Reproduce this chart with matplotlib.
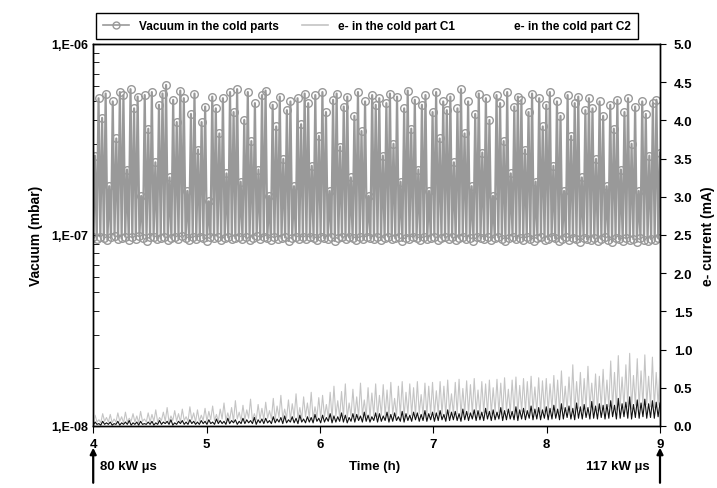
import numpy as np
import matplotlib.pyplot as plt
from matplotlib.lines import Line2D
from matplotlib.ticker import FixedLocator, LogLocator, NullFormatter

plt.rcParams['font.family'] = ['Liberation Sans', 'DejaVu Sans']
plt.rcParams['font.weight'] = 'bold'

# vacuum spikes (units of 1e-7 mbar)
vac_peak = [2.6, 5.2, 4.1, 5.5, 1.8, 5.0, 3.2, 5.6, 5.4, 2.2, 5.8, 4.6, 5.3, 1.6, 5.4, 3.6, 5.6, 2.4, 4.8, 5.5,
            6.1, 2.0, 5.1, 3.9, 5.7, 5.2, 1.7, 4.3, 5.5, 2.8, 3.9, 4.7, 1.5, 5.3, 4.6, 3.4, 5.2, 2.1, 5.6, 4.4,
            5.8, 1.9, 4.0, 5.6, 3.1, 4.9, 2.2, 5.4, 5.7, 1.6, 4.8, 3.7, 5.3, 2.5, 4.5, 5.0, 1.8, 5.2, 3.8, 5.5,
            4.9, 2.3, 5.4, 3.3, 5.6, 4.4, 1.7, 5.1, 5.5, 2.9, 4.7, 5.3, 2.0, 4.2, 5.6, 3.5, 5.0, 1.6, 5.4, 4.8,
            5.2, 2.6, 4.9, 5.5, 3.0, 5.3, 1.9, 4.6, 5.7, 3.6, 5.1, 2.2, 4.8, 5.4, 1.7, 4.4, 5.6, 3.2, 5.0, 4.5,
            5.3, 2.4, 4.6, 5.8, 3.4, 5.0, 1.8, 4.3, 5.5, 2.7, 5.2, 4.0, 1.6, 5.4, 4.9, 3.1, 5.6, 2.1, 4.7, 5.3,
            5.1, 2.8, 4.4, 5.5, 1.9, 5.2, 3.7, 4.8, 5.6, 2.3, 5.0, 4.2, 1.7, 5.4, 3.3, 4.9, 5.3, 2.0, 4.5, 5.2,
            4.6, 2.5, 5.0, 4.2, 1.8, 4.8, 3.6, 5.1, 2.2, 4.4, 5.2, 3.0, 4.7, 1.7, 5.0, 4.3, 2.6, 4.9, 5.1, 2.7]
vac_low = [0.97, 0.95, 0.98, 0.96, 0.94, 0.97, 0.99, 0.95, 0.96, 0.98, 0.94, 0.97, 0.95, 0.99, 0.96, 0.93, 0.97, 0.98, 0.95, 0.96,
           0.98, 0.94, 0.96, 0.97, 0.95, 0.99, 0.96, 0.94, 0.97, 0.95, 0.98, 0.96, 0.93, 0.97, 0.96, 0.98, 0.94, 0.96, 0.97, 0.95,
           0.96, 0.98, 0.95, 0.97, 0.94, 0.96, 0.99, 0.95, 0.97, 0.96, 0.94, 0.98, 0.95, 0.96, 0.97, 0.93, 0.96, 0.98, 0.95, 0.97,
           0.95, 0.97, 0.96, 0.94, 0.98, 0.96, 0.95, 0.97, 0.93, 0.96, 0.98, 0.95, 0.97, 0.96, 0.94, 0.97, 0.95, 0.98, 0.96, 0.95,
           0.97, 0.94, 0.96, 0.98, 0.95, 0.96, 0.97, 0.93, 0.96, 0.95, 0.98, 0.96, 0.94, 0.97, 0.95, 0.96, 0.98, 0.94, 0.96, 0.97,
           0.95, 0.97, 0.94, 0.96, 0.98, 0.95, 0.96, 0.93, 0.97, 0.96, 0.95, 0.98, 0.94, 0.96, 0.97, 0.95, 0.93, 0.96, 0.98, 0.95,
           0.96, 0.94, 0.97, 0.95, 0.93, 0.96, 0.98, 0.94, 0.95, 0.97, 0.96, 0.93, 0.95, 0.97, 0.94, 0.96, 0.95, 0.92, 0.96, 0.95,
           0.94, 0.96, 0.93, 0.95, 0.97, 0.94, 0.92, 0.96, 0.95, 0.93, 0.96, 0.94, 0.95, 0.92, 0.96, 0.94, 0.93, 0.95, 0.94, 0.96]

# e- current in cold part C1 (mA): spikes and values between them
c1_peak = [0.14, 0.08, 0.16, 0.11, 0.15, 0.09, 0.17, 0.12, 0.18, 0.10, 0.16, 0.13, 0.19, 0.09, 0.17,
           0.15, 0.21, 0.11, 0.18, 0.24, 0.13, 0.20, 0.16, 0.22, 0.12, 0.25, 0.17, 0.21, 0.14, 0.23,
           0.19, 0.26, 0.15, 0.22, 0.30, 0.17, 0.24, 0.33, 0.18, 0.27, 0.21, 0.35, 0.16, 0.28, 0.23,
           0.31, 0.20, 0.36, 0.26, 0.40, 0.22, 0.34, 0.29, 0.42, 0.24, 0.38, 0.30, 0.44, 0.25, 0.37,
           0.40, 0.28, 0.44, 0.52, 0.33, 0.45, 0.55, 0.30, 0.48, 0.38, 0.56, 0.34, 0.50, 0.43, 0.55,
           0.40, 0.54, 0.47, 0.57, 0.36, 0.52, 0.58, 0.44, 0.55, 0.50, 0.58, 0.41, 0.56, 0.52, 0.57,
           0.46, 0.58, 0.52, 0.60, 0.42, 0.57, 0.61, 0.49, 0.59, 0.54, 0.62, 0.47, 0.58, 0.55, 0.60,
           0.50, 0.61, 0.56, 0.63, 0.48, 0.60, 0.64, 0.53, 0.62, 0.58, 0.65, 0.51, 0.63, 0.59, 0.62,
           0.55, 0.66, 0.60, 0.72, 0.52, 0.64, 0.80, 0.58, 0.70, 0.62, 0.78, 0.56, 0.68, 0.65, 0.74,
           0.60, 0.85, 0.70, 0.92, 0.64, 0.80, 0.95, 0.66, 0.88, 0.72, 0.93, 0.65, 0.90, 0.70, 0.76]
c1_low = [0.04, 0.05, 0.04, 0.06, 0.05, 0.04, 0.05, 0.06, 0.04, 0.05, 0.06, 0.05, 0.04, 0.06, 0.05,
          0.05, 0.06, 0.05, 0.07, 0.06, 0.05, 0.07, 0.06, 0.05, 0.07, 0.06, 0.08, 0.05, 0.06, 0.07,
          0.06, 0.08, 0.07, 0.06, 0.09, 0.07, 0.08, 0.06, 0.09, 0.07, 0.08, 0.10, 0.07, 0.08, 0.09,
          0.08, 0.10, 0.09, 0.08, 0.11, 0.09, 0.10, 0.08, 0.11, 0.10, 0.09, 0.12, 0.10, 0.09, 0.11,
          0.10, 0.12, 0.11, 0.10, 0.13, 0.11, 0.12, 0.10, 0.13, 0.12, 0.11, 0.14, 0.12, 0.11, 0.13,
          0.12, 0.14, 0.13, 0.12, 0.15, 0.13, 0.14, 0.12, 0.15, 0.14, 0.13, 0.16, 0.14, 0.13, 0.15,
          0.14, 0.16, 0.15, 0.13, 0.17, 0.15, 0.16, 0.14, 0.17, 0.15, 0.16, 0.18, 0.15, 0.17, 0.16,
          0.16, 0.18, 0.17, 0.15, 0.19, 0.17, 0.18, 0.16, 0.19, 0.18, 0.17, 0.20, 0.18, 0.17, 0.19,
          0.18, 0.21, 0.19, 0.17, 0.22, 0.20, 0.21, 0.18, 0.23, 0.20, 0.22, 0.24, 0.21, 0.20, 0.23,
          0.22, 0.25, 0.23, 0.21, 0.26, 0.24, 0.25, 0.22, 0.27, 0.24, 0.26, 0.28, 0.25, 0.24, 0.27]

# e- current in cold part C2 (mA)
c2_peak = [0.05, 0.03, 0.06, 0.04, 0.05, 0.03, 0.06, 0.04, 0.05, 0.07, 0.04, 0.05, 0.06, 0.03, 0.05,
           0.06, 0.04, 0.07, 0.05, 0.06, 0.08, 0.04, 0.06, 0.07, 0.05, 0.08, 0.06, 0.05, 0.07, 0.06,
           0.08, 0.05, 0.09, 0.07, 0.06, 0.10, 0.07, 0.08, 0.06, 0.10, 0.08, 0.07, 0.11, 0.08, 0.09,
           0.10, 0.07, 0.12, 0.09, 0.11, 0.13, 0.08, 0.12, 0.10, 0.14, 0.09, 0.12, 0.11, 0.15, 0.10,
           0.14, 0.11, 0.16, 0.13, 0.12, 0.17, 0.14, 0.11, 0.16, 0.15, 0.13, 0.18, 0.14, 0.12, 0.17,
           0.16, 0.13, 0.18, 0.15, 0.17, 0.12, 0.19, 0.16, 0.14, 0.18, 0.17, 0.15, 0.20, 0.16, 0.18,
           0.17, 0.20, 0.15, 0.21, 0.18, 0.19, 0.16, 0.22, 0.19, 0.17, 0.21, 0.20, 0.18, 0.23, 0.19,
           0.21, 0.18, 0.24, 0.20, 0.22, 0.19, 0.25, 0.21, 0.23, 0.20, 0.26, 0.22, 0.24, 0.21, 0.25,
           0.23, 0.27, 0.22, 0.29, 0.24, 0.26, 0.23, 0.30, 0.25, 0.28, 0.24, 0.32, 0.26, 0.29, 0.27,
           0.28, 0.33, 0.27, 0.36, 0.29, 0.31, 0.38, 0.28, 0.34, 0.30, 0.35, 0.29, 0.33, 0.31, 0.30]
c2_low = [0.01, 0.02, 0.01, 0.02, 0.02, 0.01, 0.02, 0.01, 0.02, 0.02, 0.01, 0.02, 0.01, 0.02, 0.02,
          0.02, 0.01, 0.02, 0.02, 0.03, 0.02, 0.01, 0.02, 0.03, 0.02, 0.02, 0.03, 0.02, 0.02, 0.03,
          0.02, 0.03, 0.02, 0.03, 0.03, 0.02, 0.03, 0.04, 0.02, 0.03, 0.03, 0.04, 0.03, 0.02, 0.04,
          0.03, 0.04, 0.03, 0.04, 0.05, 0.03, 0.04, 0.05, 0.04, 0.03, 0.05, 0.04, 0.05, 0.04, 0.06,
          0.04, 0.05, 0.06, 0.04, 0.05, 0.06, 0.05, 0.04, 0.06, 0.05, 0.07, 0.05, 0.06, 0.05, 0.07,
          0.05, 0.06, 0.07, 0.05, 0.06, 0.07, 0.06, 0.05, 0.07, 0.06, 0.08, 0.06, 0.07, 0.06, 0.08,
          0.06, 0.07, 0.08, 0.06, 0.07, 0.08, 0.07, 0.06, 0.08, 0.07, 0.09, 0.07, 0.08, 0.07, 0.09,
          0.07, 0.08, 0.09, 0.07, 0.08, 0.09, 0.08, 0.07, 0.09, 0.08, 0.10, 0.08, 0.09, 0.08, 0.10,
          0.08, 0.09, 0.10, 0.08, 0.09, 0.11, 0.09, 0.08, 0.10, 0.09, 0.11, 0.09, 0.10, 0.09, 0.11,
          0.09, 0.10, 0.12, 0.09, 0.10, 0.12, 0.10, 0.09, 0.11, 0.10, 0.12, 0.10, 0.11, 0.10, 0.12]

t_start, t_end = 4.0, 9.0
x_ticks = [4, 5, 6, 7, 8, 9]
left_ticks = [1e-8, 1e-7, 1e-6]
left_labels = ['1,E-08', '1,E-07', '1,E-06']
right_ticks = [0.0, 0.5, 1.0, 1.5, 2.0, 2.5, 3.0, 3.5, 4.0, 4.5, 5.0]


def interleave(low, peak):
    out = []
    for a, b in zip(low, peak):
        out += [a, b]
    return np.array(out)


vac = interleave(vac_low, vac_peak) * 1e-7
c1 = interleave(c1_low, c1_peak)
c2 = interleave(c2_low, c2_peak)
t_vac = np.linspace(t_start, t_end, len(vac))
t_c1 = np.linspace(t_start, t_end, len(c1))
t_c2 = np.linspace(t_start, t_end, len(c2))

fig = plt.figure(figsize=(7.17, 4.89), dpi=100)
ax = fig.add_axes([0.130, 0.127, 0.7905, 0.781])
ax2 = ax.twinx()

vac_col = '#999999'
ax.plot(t_vac, vac, color=vac_col, lw=1.6, marker='o', ms=5.5, mfc='none', mec=vac_col, mew=1.0)
ax.set_yscale('log')
ax.set_ylim(1e-8, 1e-6)
ax.set_xlim(t_start, t_end)
ax.yaxis.set_major_locator(FixedLocator(left_ticks))
ax.set_yticklabels(left_labels)
ax.yaxis.set_minor_locator(LogLocator(base=10, subs=np.arange(2, 10)))
ax.yaxis.set_minor_formatter(NullFormatter())
ax.tick_params(axis='y', which='both', direction='in', labelsize=9)
ax.tick_params(axis='y', which='major', length=5)
ax.tick_params(axis='y', which='minor', length=4)
ax.set_xticks(x_ticks)
ax.tick_params(axis='x', direction='out', length=5, labelsize=9.5, pad=4)
ax.set_ylabel('Vacuum (mbar)', fontsize=10, fontweight='bold', labelpad=6)

c1_col = '#c4c4c4'
ax2.plot(t_c1, c1, color=c1_col, lw=0.8)
ax2.plot(t_c2, c2, color='#111111', lw=0.8)
ax2.set_ylim(0, 5)
ax2.set_yticks(right_ticks)
ax2.set_yticklabels([f'{v:.1f}' for v in right_ticks])
ax2.tick_params(axis='y', direction='out', length=4, labelsize=9.5, pad=6)
ax2.set_ylabel('e- current (mA)', fontsize=10, fontweight='bold', labelpad=6)

for a in (ax, ax2):
    for s in a.spines.values():
        s.set_linewidth(1.0)

handles = [Line2D([], [], color=vac_col, lw=1.2, marker='o', ms=5, mfc='none', mec=vac_col),
           Line2D([], [], color=c1_col, lw=1.2),
           Line2D([], [], color='none', lw=1.2)]
labels = ['Vacuum in the cold parts', 'e- in the cold part C1', 'e- in the cold part C2']
leg = fig.legend(handles, labels, loc='center', bbox_to_anchor=(0.512, 0.945), ncol=3,
                 fancybox=False, edgecolor='black', fontsize=8.5, handlelength=2.2,
                 columnspacing=2.0, borderpad=0.6, framealpha=1)
leg.get_frame().set_linewidth(1.0)

# bottom annotation: arrows at start and end of the run
for xv in (t_start, t_end):
    ax.annotate('', xy=(xv, 0.088), xycoords=('data', 'figure fraction'),
                xytext=(xv, 0.005), textcoords=('data', 'figure fraction'),
                arrowprops=dict(arrowstyle='-|>', color='black', lw=1.6, mutation_scale=9))
fig.text(0.140, 0.046, '80 kW µs', fontsize=9.5, fontweight='bold', va='center', ha='left')
fig.text(0.523, 0.046, 'Time (h)', fontsize=9.5, fontweight='bold', va='center', ha='center')
fig.text(0.906, 0.046, '117 kW µs', fontsize=9.5, fontweight='bold', va='center', ha='right')

fig.savefig('out.png', dpi=100)
